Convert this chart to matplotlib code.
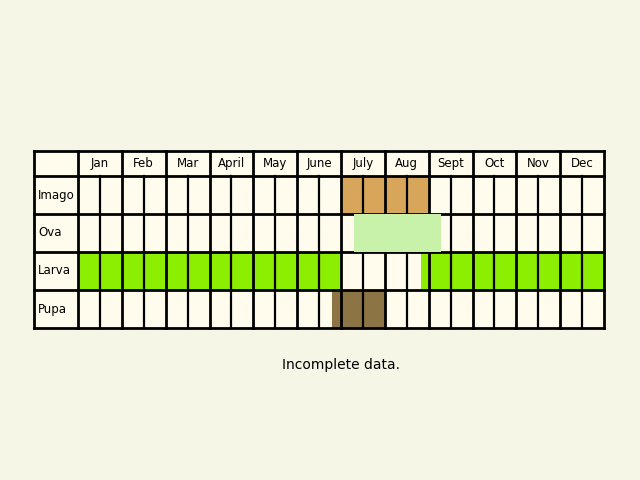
import matplotlib.pyplot as plt
from matplotlib.patches import Rectangle

months = ["Jan", "Feb", "Mar", "April", "May", "June", "July", "Aug", "Sept", "Oct", "Nov", "Dec"]
stages = ["Imago", "Ova", "Larva", "Pupa"]
# active periods per stage, in months from Jan 1
periods = {
    "Imago": [(6.0, 8.0)],
    "Ova": [(6.3, 8.28)],
    "Larva": [(0.0, 6.0), (7.83, 12.0)],
    "Pupa": [(5.8, 7.0)],
}
colors = {"Imago": "#d8a65a", "Ova": "#c8f2aa", "Larva": "#8cee00", "Pupa": "#8c7444"}

fig = plt.figure(figsize=(6.4, 4.8), dpi=100, facecolor="#f6f6e6")
ax = fig.add_axes([0, 0, 1, 1])
ax.set_xlim(0, 640)
ax.set_ylim(480, 0)
ax.axis("off")

left, label_w, right = 34, 44, 604
x0 = left + label_w
mw = (right - x0) / 12
top, head_h, row_h = 151, 25, 38
bottom = top + head_h + row_h * len(stages)

ax.add_patch(Rectangle((left, top), right - left, bottom - top, facecolor="#fffcee", edgecolor="none", zorder=0))

for i, s in enumerate(stages):
    y = top + head_h + i * row_h
    for a, b in periods[s]:
        z = 3 if s == "Ova" else 1
        ax.add_patch(Rectangle((x0 + a * mw, y), (b - a) * mw, row_h, facecolor=colors[s], edgecolor="none", zorder=z))
    ax.text(left + 4, y + row_h / 2, s, fontsize=8.5, va="center", ha="left")

lk = dict(color="black", zorder=2)
ax.plot([left, right], [top, top], lw=2, **lk)
ax.plot([left, right], [top + head_h, top + head_h], lw=2, **lk)
for i in range(1, len(stages) + 1):
    y = top + head_h + i * row_h
    ax.plot([left, right], [y, y], lw=2, **lk)
ax.plot([left, left], [top, bottom], lw=2, **lk)
for m in range(13):
    x = x0 + m * mw
    ax.plot([x, x], [top, bottom], lw=2, **lk)
    if m < 12:
        ax.text(x + mw / 2, top + head_h / 2, months[m], fontsize=8.5, ha="center", va="center")
        xh = x + mw / 2
        ax.plot([xh, xh], [top + head_h, bottom], lw=1.6, **lk)

ax.text(341, 365, "Incomplete data.", fontsize=10, ha="center", va="center")

fig.savefig("out.png", dpi=100, facecolor=fig.get_facecolor())
